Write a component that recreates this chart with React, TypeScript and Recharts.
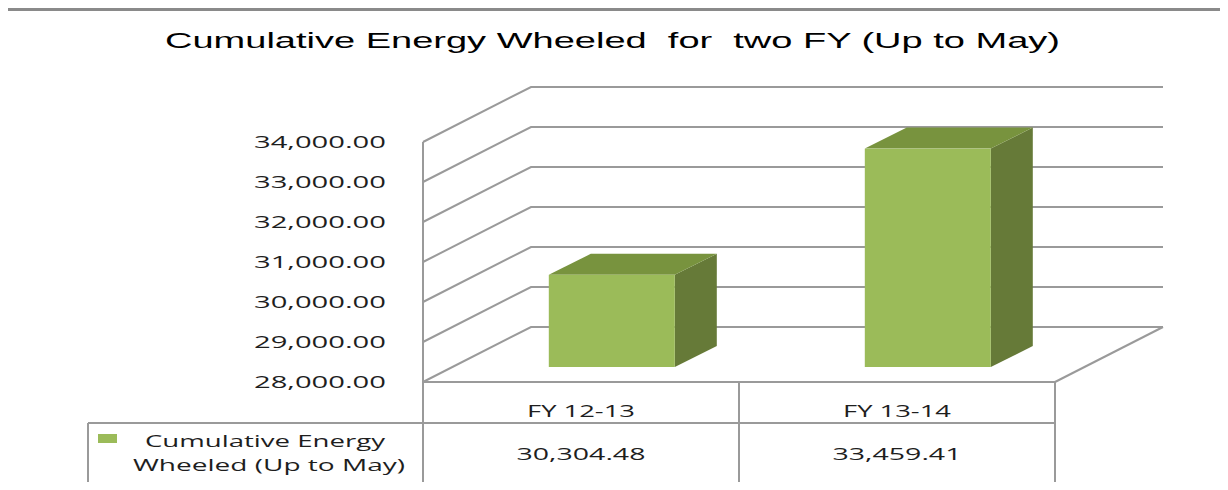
import React from 'react';
import { BarChart, Bar, XAxis, YAxis, CartesianGrid } from 'recharts';

// ---------- data ----------
const categories = ['FY 12-13', 'FY 13-14'];
const energyValues = [30304.48, 33459.41];
const yTicks = [28000, 29000, 30000, 31000, 32000, 33000, 34000];
const seriesLabelLines = ['Cumulative Energy', 'Wheeled (Up to May)'];
const chartTitle = 'Cumulative Energy Wheeled  for  two FY (Up to May)';

const data = categories.map((name, i) => ({ name, value: energyValues[i] }));

// ---------- styles ----------
const GRID = '#9a9a9a';
const FRONT = '#9bbb59';
const TOP = '#78933e';
const SIDE = '#667a38';
const TEXT = '#1e1e1e';
const FONT = '"Open Sans", "Liberation Sans", sans-serif';

// oblique depth of the wall / floor
const DEPTH_X = 108;
const DEPTH_Y = 55;
// bar set-back and bar depth
const BAR_OFF_X = 31;
const BAR_OFF_Y = 15;
const BAR_DX = 42;
const BAR_DY = 21;

const fmt = (v: number) =>
  v.toLocaleString('en-US', { minimumFractionDigits: 2, maximumFractionDigits: 2 });

const Box3D = (props: any) => {
  const { x, y, width, height } = props;
  if (width == null || height == null) return null;
  const fx = x + BAR_OFF_X;
  const fy = y - BAR_OFF_Y;
  const topPts = `${fx},${fy} ${fx + width},${fy} ${fx + width + BAR_DX},${fy - BAR_DY} ${fx + BAR_DX},${fy - BAR_DY}`;
  const sidePts = `${fx + width},${fy} ${fx + width + BAR_DX},${fy - BAR_DY} ${fx + width + BAR_DX},${fy + height - BAR_DY} ${fx + width},${fy + height}`;
  return (
    <g>
      <polygon points={sidePts} fill={SIDE} />
      <polygon points={topPts} fill={TOP} />
      <rect x={fx} y={fy} width={width} height={height} fill={FRONT} />
    </g>
  );
};

const gridLine = (props: any) => {
  const { x1, y1, x2, key, index } = props;
  const by = y1 - DEPTH_Y;
  return (
    <path
      key={key ?? `g-${index}`}
      d={`M${x1},${y1}L${x1 + DEPTH_X},${by}L${x2 + DEPTH_X},${by}`}
      fill="none"
      stroke={GRID}
      strokeWidth={2}
    />
  );
};

const YTick = (props: any) => {
  const { x, y, payload } = props;
  return (
    <text
      x={x - 37}
      y={y}
      dy={6}
      textAnchor="end"
      textLength={132}
      lengthAdjust="spacingAndGlyphs"
      fontFamily={FONT}
      fontSize={17}
      fill={TEXT}
    >
      {fmt(payload.value)}
    </text>
  );
};

const XTick = (props: any) => {
  const { x, y, payload, index, visibleTicksCount } = props;
  const half = payload && payload.offset ? payload.offset : 158;
  const left = x - half;
  const right = x + half;
  const val = energyValues[index];
  const isFirst = index === 0;
  const isLast = index === (visibleTicksCount ?? categories.length) - 1;
  const legLeft = left - 335;
  return (
    <g>
      <line x1={right} y1={y} x2={right} y2={y + 102} stroke={GRID} strokeWidth={2} />
      {isFirst && <line x1={left} y1={y} x2={left} y2={y + 102} stroke={GRID} strokeWidth={2} />}
      <line x1={left} y1={y + 41} x2={right} y2={y + 41} stroke={GRID} strokeWidth={2} />
      <line x1={left} y1={y + 102} x2={right} y2={y + 102} stroke={GRID} strokeWidth={2} />
      {isLast && (
        <line x1={right} y1={y} x2={right + DEPTH_X} y2={y - DEPTH_Y} stroke={GRID} strokeWidth={2} />
      )}
      <text
        x={x}
        y={y + 35}
        textAnchor="middle"
        textLength={108}
        lengthAdjust="spacingAndGlyphs"
        fontFamily={FONT}
        fontSize={17}
        fill={TEXT}
      >
        {payload.value}
      </text>
      <text
        x={x}
        y={y + 78}
        textAnchor="middle"
        textLength={129}
        lengthAdjust="spacingAndGlyphs"
        fontFamily={FONT}
        fontSize={17}
        fill={TEXT}
      >
        {fmt(val)}
      </text>
      {isFirst && (
        <g>
          <line x1={legLeft} y1={y + 41} x2={left} y2={y + 41} stroke={GRID} strokeWidth={2} />
          <line x1={legLeft} y1={y + 102} x2={left} y2={y + 102} stroke={GRID} strokeWidth={2} />
          <line x1={legLeft} y1={y + 41} x2={legLeft} y2={y + 102} stroke={GRID} strokeWidth={2} />
          <rect x={legLeft + 10} y={y + 52} width={19} height={9} fill={FRONT} />
          <text
            x={left - 158}
            y={y + 65}
            textAnchor="middle"
            textLength={240}
            lengthAdjust="spacingAndGlyphs"
            fontFamily={FONT}
            fontSize={17}
            fill={TEXT}
          >
            {seriesLabelLines[0]}
          </text>
          <text
            x={left - 154}
            y={y + 89}
            textAnchor="middle"
            textLength={272}
            lengthAdjust="spacingAndGlyphs"
            fontFamily={FONT}
            fontSize={17}
            fill={TEXT}
          >
            {seriesLabelLines[1]}
          </text>
        </g>
      )}
    </g>
  );
};

export default function App() {
  return (
    <div style={{ position: 'relative', width: 1228, height: 490, margin: -8, overflow: 'hidden', background: '#fff' }}>
      <div style={{ position: 'absolute', left: 0, top: 0 }}>
        <BarChart
          width={1228}
          height={490}
          data={data}
          margin={{ top: 142, right: 173, bottom: 0, left: 0 }}
          barCategoryGap="30%"
        >
          <CartesianGrid vertical={false} horizontal={gridLine} />
          <YAxis
            type="number"
            domain={[28000, 34000]}
            ticks={yTicks}
            width={423}
            tickLine={false}
            tickSize={0}
            tickMargin={0}
            axisLine={{ stroke: GRID, strokeWidth: 2 }}
            tick={<YTick />}
            interval={0}
          />
          <XAxis
            dataKey="name"
            height={108}
            tickLine={false}
            tickSize={0}
            tickMargin={0}
            axisLine={{ stroke: GRID, strokeWidth: 2 }}
            tick={<XTick />}
            interval={0}
          />
          <Bar dataKey="value" shape={<Box3D />} isAnimationActive={false} />
        </BarChart>
      </div>
      <svg width={1228} height={490} style={{ position: 'absolute', left: 0, top: 0, pointerEvents: 'none' }}>
        <path d="M5.5,490 L5.5,9.5 L1226,9.5" fill="none" stroke="#8a8a8a" strokeWidth={3} />
        <path d="M1226.5,9.5 L1226.5,490" fill="none" stroke="#dcdcdc" strokeWidth={2} />
        <text
          x={165}
          y={48}
          textLength={895}
          lengthAdjust="spacingAndGlyphs"
          fontFamily='"Liberation Sans", Arial, sans-serif'
          fontSize={22}
          fill="#000"
          style={{ whiteSpace: 'pre' }}
        >
          {chartTitle}
        </text>
      </svg>
    </div>
  );
}
